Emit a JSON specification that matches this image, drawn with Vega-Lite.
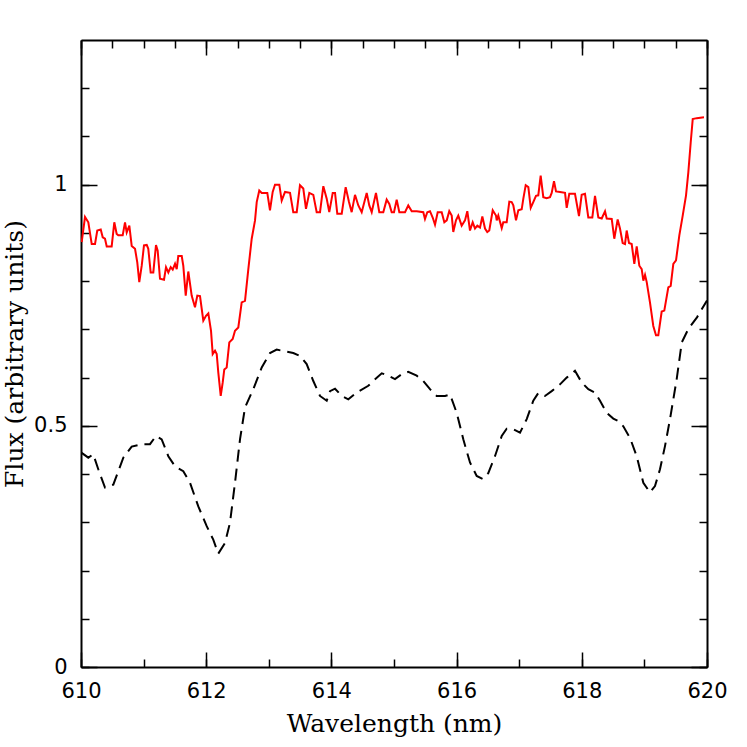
{
  "$schema": "https://vega.github.io/schema/vega-lite/v6.json",
  "width": 626,
  "height": 627,
  "autosize": {"type": "none"},
  "padding": {"left": 81, "top": 40, "right": 40, "bottom": 80},
  "background": "white",
  "config": {"view": {"stroke": null}},
  "datasets": {
    "observed": [
      {"w": 610.011, "f": 0.881}, {"w": 610.064, "f": 0.933}, {"w": 610.117, "f": 0.922}, {"w": 610.171, "f": 0.877},
      {"w": 610.224, "f": 0.877}, {"w": 610.26, "f": 0.905}, {"w": 610.315, "f": 0.907}, {"w": 610.347, "f": 0.891},
      {"w": 610.383, "f": 0.888}, {"w": 610.411, "f": 0.872}, {"w": 610.49, "f": 0.872}, {"w": 610.532, "f": 0.922},
      {"w": 610.57, "f": 0.898}, {"w": 610.596, "f": 0.895}, {"w": 610.666, "f": 0.895}, {"w": 610.703, "f": 0.922},
      {"w": 610.73, "f": 0.901}, {"w": 610.772, "f": 0.915}, {"w": 610.81, "f": 0.873}, {"w": 610.863, "f": 0.867},
      {"w": 610.899, "f": 0.839}, {"w": 610.931, "f": 0.798}, {"w": 610.97, "f": 0.832}, {"w": 611.006, "f": 0.874},
      {"w": 611.05, "f": 0.875}, {"w": 611.075, "f": 0.867}, {"w": 611.113, "f": 0.818}, {"w": 611.155, "f": 0.818},
      {"w": 611.198, "f": 0.875}, {"w": 611.225, "f": 0.863}, {"w": 611.262, "f": 0.805}, {"w": 611.326, "f": 0.803},
      {"w": 611.358, "f": 0.829}, {"w": 611.395, "f": 0.818}, {"w": 611.433, "f": 0.829}, {"w": 611.465, "f": 0.824},
      {"w": 611.502, "f": 0.836}, {"w": 611.529, "f": 0.825}, {"w": 611.554, "f": 0.852}, {"w": 611.609, "f": 0.852},
      {"w": 611.634, "f": 0.832}, {"w": 611.673, "f": 0.77}, {"w": 611.714, "f": 0.82}, {"w": 611.768, "f": 0.77},
      {"w": 611.821, "f": 0.746}, {"w": 611.858, "f": 0.77}, {"w": 611.901, "f": 0.769}, {"w": 611.954, "f": 0.718},
      {"w": 611.997, "f": 0.728}, {"w": 612.034, "f": 0.733}, {"w": 612.077, "f": 0.697}, {"w": 612.104, "f": 0.649},
      {"w": 612.141, "f": 0.656}, {"w": 612.168, "f": 0.649}, {"w": 612.193, "f": 0.611}, {"w": 612.232, "f": 0.562},
      {"w": 612.264, "f": 0.59}, {"w": 612.289, "f": 0.617}, {"w": 612.327, "f": 0.621}, {"w": 612.369, "f": 0.673},
      {"w": 612.423, "f": 0.68}, {"w": 612.46, "f": 0.697}, {"w": 612.513, "f": 0.704}, {"w": 612.567, "f": 0.756},
      {"w": 612.62, "f": 0.759}, {"w": 612.673, "f": 0.825}, {"w": 612.727, "f": 0.888}, {"w": 612.78, "f": 0.926},
      {"w": 612.807, "f": 0.964}, {"w": 612.848, "f": 0.988}, {"w": 612.887, "f": 0.983}, {"w": 612.976, "f": 0.983},
      {"w": 613.019, "f": 0.947}, {"w": 613.062, "f": 0.985}, {"w": 613.099, "f": 1.0}, {"w": 613.168, "f": 1.0},
      {"w": 613.206, "f": 0.967}, {"w": 613.259, "f": 0.985}, {"w": 613.339, "f": 0.983}, {"w": 613.391, "f": 0.943},
      {"w": 613.446, "f": 0.943}, {"w": 613.498, "f": 0.999}, {"w": 613.551, "f": 0.992}, {"w": 613.594, "f": 0.95},
      {"w": 613.647, "f": 0.983}, {"w": 613.711, "f": 0.979}, {"w": 613.765, "f": 0.943}, {"w": 613.818, "f": 0.943},
      {"w": 613.871, "f": 0.997}, {"w": 613.925, "f": 0.971}, {"w": 613.966, "f": 0.943}, {"w": 614.021, "f": 0.983},
      {"w": 614.058, "f": 0.983}, {"w": 614.094, "f": 0.94}, {"w": 614.165, "f": 0.94}, {"w": 614.228, "f": 0.995},
      {"w": 614.281, "f": 0.964}, {"w": 614.324, "f": 0.943}, {"w": 614.377, "f": 0.979}, {"w": 614.43, "f": 0.957},
      {"w": 614.484, "f": 0.943}, {"w": 614.564, "f": 0.983}, {"w": 614.605, "f": 0.957}, {"w": 614.644, "f": 0.943},
      {"w": 614.712, "f": 0.983}, {"w": 614.765, "f": 0.943}, {"w": 614.829, "f": 0.943}, {"w": 614.883, "f": 0.969},
      {"w": 614.925, "f": 0.96}, {"w": 614.963, "f": 0.943}, {"w": 615.0, "f": 0.943}, {"w": 615.043, "f": 0.969},
      {"w": 615.085, "f": 0.943}, {"w": 615.176, "f": 0.943}, {"w": 615.228, "f": 0.957}, {"w": 615.283, "f": 0.945},
      {"w": 615.363, "f": 0.945}, {"w": 615.468, "f": 0.943}, {"w": 615.495, "f": 0.929}, {"w": 615.532, "f": 0.943},
      {"w": 615.575, "f": 0.945}, {"w": 615.618, "f": 0.932}, {"w": 615.655, "f": 0.917}, {"w": 615.698, "f": 0.943},
      {"w": 615.762, "f": 0.943}, {"w": 615.804, "f": 0.922}, {"w": 615.842, "f": 0.926}, {"w": 615.883, "f": 0.945},
      {"w": 615.922, "f": 0.936}, {"w": 615.947, "f": 0.902}, {"w": 615.99, "f": 0.926}, {"w": 616.027, "f": 0.936},
      {"w": 616.081, "f": 0.915}, {"w": 616.134, "f": 0.926}, {"w": 616.171, "f": 0.945}, {"w": 616.214, "f": 0.905},
      {"w": 616.257, "f": 0.922}, {"w": 616.294, "f": 0.909}, {"w": 616.331, "f": 0.915}, {"w": 616.374, "f": 0.911},
      {"w": 616.411, "f": 0.934}, {"w": 616.454, "f": 0.909}, {"w": 616.49, "f": 0.902}, {"w": 616.522, "f": 0.905},
      {"w": 616.577, "f": 0.947}, {"w": 616.629, "f": 0.936}, {"w": 616.641, "f": 0.926}, {"w": 616.666, "f": 0.936},
      {"w": 616.721, "f": 0.91}, {"w": 616.746, "f": 0.922}, {"w": 616.8, "f": 0.922}, {"w": 616.842, "f": 0.965},
      {"w": 616.88, "f": 0.964}, {"w": 616.906, "f": 0.957}, {"w": 616.949, "f": 0.926}, {"w": 616.986, "f": 0.947},
      {"w": 617.04, "f": 0.949}, {"w": 617.066, "f": 0.971}, {"w": 617.104, "f": 0.999}, {"w": 617.146, "f": 0.995},
      {"w": 617.184, "f": 0.952}, {"w": 617.225, "f": 0.964}, {"w": 617.268, "f": 0.977}, {"w": 617.305, "f": 0.978},
      {"w": 617.343, "f": 1.019}, {"w": 617.385, "f": 0.974}, {"w": 617.439, "f": 0.972}, {"w": 617.492, "f": 0.974},
      {"w": 617.519, "f": 0.983}, {"w": 617.556, "f": 1.007}, {"w": 617.588, "f": 0.986}, {"w": 617.652, "f": 0.985},
      {"w": 617.732, "f": 0.983}, {"w": 617.759, "f": 0.952}, {"w": 617.8, "f": 0.981}, {"w": 617.891, "f": 0.981},
      {"w": 617.955, "f": 0.935}, {"w": 617.998, "f": 0.979}, {"w": 618.051, "f": 0.981}, {"w": 618.104, "f": 0.932},
      {"w": 618.168, "f": 0.932}, {"w": 618.211, "f": 0.977}, {"w": 618.264, "f": 0.932}, {"w": 618.318, "f": 0.93},
      {"w": 618.371, "f": 0.945}, {"w": 618.398, "f": 0.93}, {"w": 618.478, "f": 0.929}, {"w": 618.519, "f": 0.888},
      {"w": 618.573, "f": 0.928}, {"w": 618.61, "f": 0.909}, {"w": 618.653, "f": 0.879}, {"w": 618.69, "f": 0.877},
      {"w": 618.717, "f": 0.905}, {"w": 618.754, "f": 0.879}, {"w": 618.797, "f": 0.877}, {"w": 618.839, "f": 0.836},
      {"w": 618.877, "f": 0.872}, {"w": 618.919, "f": 0.832}, {"w": 618.957, "f": 0.825}, {"w": 618.983, "f": 0.801},
      {"w": 619.01, "f": 0.813}, {"w": 619.037, "f": 0.798}, {"w": 619.089, "f": 0.756}, {"w": 619.142, "f": 0.707},
      {"w": 619.185, "f": 0.688}, {"w": 619.222, "f": 0.688}, {"w": 619.276, "f": 0.737}, {"w": 619.318, "f": 0.739},
      {"w": 619.382, "f": 0.787}, {"w": 619.42, "f": 0.79}, {"w": 619.462, "f": 0.836}, {"w": 619.505, "f": 0.843},
      {"w": 619.558, "f": 0.895}, {"w": 619.612, "f": 0.936}, {"w": 619.665, "f": 0.978}, {"w": 619.702, "f": 1.026},
      {"w": 619.74, "f": 1.088}, {"w": 619.772, "f": 1.136}, {"w": 619.836, "f": 1.138}, {"w": 619.952, "f": 1.14}
    ],
    "model": [
      {"w": 610.011, "f": 0.444}, {"w": 610.117, "f": 0.434}, {"w": 610.196, "f": 0.441}, {"w": 610.276, "f": 0.41},
      {"w": 610.383, "f": 0.372}, {"w": 610.516, "f": 0.378}, {"w": 610.676, "f": 0.434}, {"w": 610.81, "f": 0.457},
      {"w": 610.97, "f": 0.462}, {"w": 611.102, "f": 0.462}, {"w": 611.198, "f": 0.479}, {"w": 611.289, "f": 0.472},
      {"w": 611.395, "f": 0.437}, {"w": 611.502, "f": 0.416}, {"w": 611.634, "f": 0.406}, {"w": 611.741, "f": 0.382},
      {"w": 611.874, "f": 0.333}, {"w": 612.008, "f": 0.292}, {"w": 612.113, "f": 0.264}, {"w": 612.193, "f": 0.235},
      {"w": 612.3, "f": 0.257}, {"w": 612.38, "f": 0.299}, {"w": 612.46, "f": 0.382}, {"w": 612.54, "f": 0.472},
      {"w": 612.62, "f": 0.538}, {"w": 612.752, "f": 0.576}, {"w": 612.887, "f": 0.621}, {"w": 613.019, "f": 0.651},
      {"w": 613.126, "f": 0.658}, {"w": 613.391, "f": 0.651}, {"w": 613.498, "f": 0.645}, {"w": 613.605, "f": 0.628},
      {"w": 613.711, "f": 0.593}, {"w": 613.818, "f": 0.562}, {"w": 613.925, "f": 0.552}, {"w": 613.978, "f": 0.572},
      {"w": 614.058, "f": 0.577}, {"w": 614.165, "f": 0.562}, {"w": 614.27, "f": 0.555}, {"w": 614.404, "f": 0.569},
      {"w": 614.589, "f": 0.583}, {"w": 614.669, "f": 0.593}, {"w": 614.804, "f": 0.609}, {"w": 614.909, "f": 0.604},
      {"w": 615.016, "f": 0.597}, {"w": 615.123, "f": 0.607}, {"w": 615.228, "f": 0.612}, {"w": 615.363, "f": 0.604},
      {"w": 615.468, "f": 0.593}, {"w": 615.575, "f": 0.576}, {"w": 615.682, "f": 0.562}, {"w": 615.815, "f": 0.562},
      {"w": 615.895, "f": 0.565}, {"w": 616.002, "f": 0.527}, {"w": 616.107, "f": 0.472}, {"w": 616.214, "f": 0.424},
      {"w": 616.321, "f": 0.396}, {"w": 616.417, "f": 0.39}, {"w": 616.506, "f": 0.402}, {"w": 616.613, "f": 0.437},
      {"w": 616.721, "f": 0.479}, {"w": 616.8, "f": 0.494}, {"w": 616.906, "f": 0.493}, {"w": 617.013, "f": 0.486},
      {"w": 617.12, "f": 0.514}, {"w": 617.225, "f": 0.552}, {"w": 617.305, "f": 0.568}, {"w": 617.412, "f": 0.562},
      {"w": 617.519, "f": 0.572}, {"w": 617.652, "f": 0.586}, {"w": 617.759, "f": 0.6}, {"w": 617.891, "f": 0.614},
      {"w": 617.998, "f": 0.59}, {"w": 618.104, "f": 0.576}, {"w": 618.211, "f": 0.569}, {"w": 618.291, "f": 0.552},
      {"w": 618.398, "f": 0.527}, {"w": 618.503, "f": 0.515}, {"w": 618.583, "f": 0.51}, {"w": 618.663, "f": 0.499},
      {"w": 618.77, "f": 0.475}, {"w": 618.877, "f": 0.437}, {"w": 618.983, "f": 0.382}, {"w": 619.089, "f": 0.362},
      {"w": 619.169, "f": 0.375}, {"w": 619.249, "f": 0.41}, {"w": 619.329, "f": 0.458}, {"w": 619.409, "f": 0.514},
      {"w": 619.516, "f": 0.597}, {"w": 619.597, "f": 0.673}, {"w": 619.702, "f": 0.701}, {"w": 619.84, "f": 0.725},
      {"w": 620.0, "f": 0.76}
    ]
  },
  "layer": [
    {
      "data": {"name": "observed"},
      "mark": {"type": "line", "color": "#ff0000", "strokeWidth": 2, "clip": true},
      "encoding": {
        "x": {
          "field": "w", "type": "quantitative",
          "scale": {"domain": [610, 620], "nice": false, "zero": false},
          "axis": {
            "orient": "bottom",
            "values": [610, 610.5, 611, 611.5, 612, 612.5, 613, 613.5, 614, 614.5, 615, 615.5, 616, 616.5, 617, 617.5, 618, 618.5, 619, 619.5, 620],
            "format": "d",
            "labelExpr": "datum.value % 2 === 0 ? datum.label : ''",
            "title": "Wavelength (nm)",
            "titleFont": "DejaVu Serif", "titleFontSize": 25, "titleFontWeight": "normal", "titleColor": "#000000", "titlePadding": 10,
            "labelFont": "DejaVu Sans", "labelFontSize": 21, "labelColor": "#000000", "labelPadding": 21,
            "labelFlush": false, "labelOverlap": false,
            "grid": false, "tickSize": -8, "tickColor": "#000000", "tickWidth": 1.5,
            "domainColor": "#000000", "domainWidth": 2
          }
        },
        "y": {
          "field": "f", "type": "quantitative",
          "scale": {"domain": [0, 1.3], "nice": false, "zero": true},
          "axis": {
            "orient": "left",
            "values": [0, 0.1, 0.2, 0.3, 0.4, 0.5, 0.6, 0.7, 0.8, 0.9, 1, 1.1, 1.2],
            "format": "~g",
            "labelExpr": "(datum.value === 0 || datum.value === 0.5 || datum.value === 1) ? datum.label : ''",
            "title": "Flux (arbitrary units)",
            "titleFont": "DejaVu Serif", "titleFontSize": 25, "titleFontWeight": "normal", "titleColor": "#000000", "titlePadding": 6,
            "labelFont": "DejaVu Sans", "labelFontSize": 21, "labelColor": "#000000", "labelPadding": 22,
            "labelOverlap": false, "labelFlush": false,
            "grid": false, "tickSize": -8, "tickColor": "#000000", "tickWidth": 1.5,
            "domainColor": "#000000", "domainWidth": 2
          }
        }
      }
    },
    {
      "data": {"name": "model"},
      "mark": {"type": "line", "color": "#000000", "strokeWidth": 2, "strokeDash": [12, 7], "clip": true},
      "encoding": {
        "x": {
          "field": "w", "type": "quantitative",
          "axis": {
            "orient": "top",
            "values": [610, 610.5, 611, 611.5, 612, 612.5, 613, 613.5, 614, 614.5, 615, 615.5, 616, 616.5, 617, 617.5, 618, 618.5, 619, 619.5, 620],
            "labels": false, "title": null,
            "grid": false, "tickSize": -8, "tickColor": "#000000", "tickWidth": 1.5,
            "domainColor": "#000000", "domainWidth": 2
          }
        },
        "y": {
          "field": "f", "type": "quantitative",
          "axis": {
            "orient": "right",
            "values": [0, 0.1, 0.2, 0.3, 0.4, 0.5, 0.6, 0.7, 0.8, 0.9, 1, 1.1, 1.2],
            "labels": false, "title": null,
            "grid": false, "tickSize": -8, "tickColor": "#000000", "tickWidth": 1.5,
            "domainColor": "#000000", "domainWidth": 2
          }
        }
      }
    },
    {
      "data": {"name": "observed"},
      "mark": {"type": "line", "color": "#ff0000", "strokeWidth": 2, "opacity": 0, "clip": true},
      "encoding": {
        "x": {
          "field": "w", "type": "quantitative",
          "axis": {
            "orient": "bottom",
            "values": [610, 612, 614, 616, 618, 620],
            "labels": false, "title": null, "domain": false,
            "grid": false, "tickSize": -15, "tickColor": "#000000", "tickWidth": 1.5
          }
        },
        "y": {
          "field": "f", "type": "quantitative",
          "axis": {
            "orient": "left",
            "values": [0, 0.5, 1],
            "labels": false, "title": null, "domain": false,
            "grid": false, "tickSize": -16, "tickColor": "#000000", "tickWidth": 1.5
          }
        }
      }
    },
    {
      "data": {"name": "model"},
      "mark": {"type": "line", "color": "#000000", "strokeWidth": 2, "opacity": 0, "clip": true},
      "encoding": {
        "x": {
          "field": "w", "type": "quantitative",
          "axis": {
            "orient": "top",
            "values": [610, 612, 614, 616, 618, 620],
            "labels": false, "title": null, "domain": false,
            "grid": false, "tickSize": -15, "tickColor": "#000000", "tickWidth": 1.5
          }
        },
        "y": {
          "field": "f", "type": "quantitative",
          "axis": {
            "orient": "right",
            "values": [0, 0.5, 1],
            "labels": false, "title": null, "domain": false,
            "grid": false, "tickSize": -16, "tickColor": "#000000", "tickWidth": 1.5
          }
        }
      }
    }
  ],
  "resolve": {"axis": {"x": "independent", "y": "independent"}}
}
